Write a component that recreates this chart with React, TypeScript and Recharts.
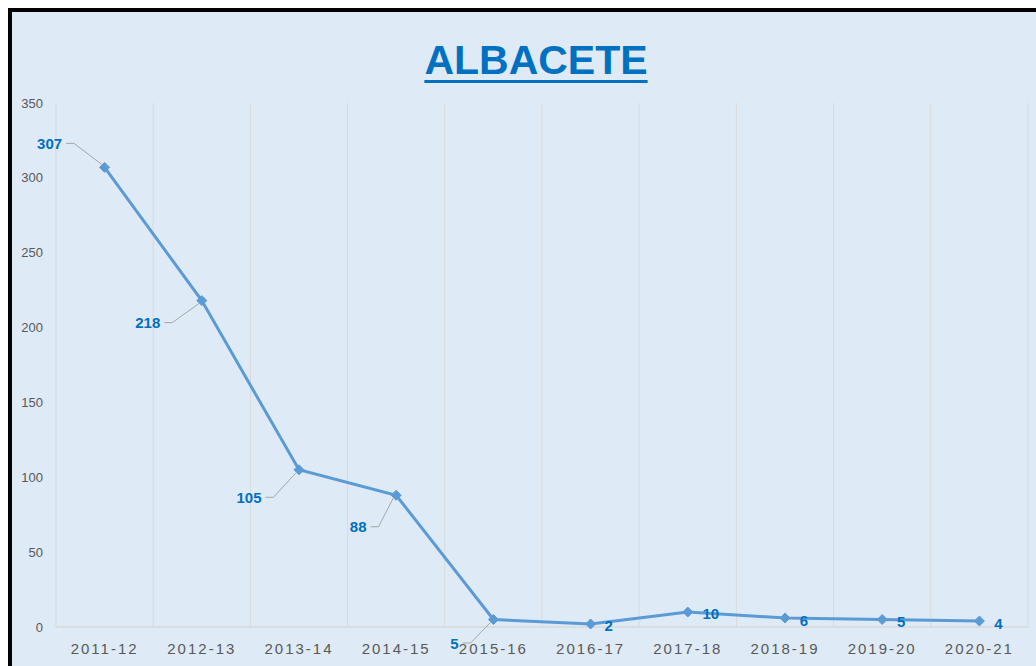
import React from "react";
import { LineChart, Line, XAxis, YAxis, CartesianGrid, LabelList } from "recharts";

const categories = ["2011-12", "2012-13", "2013-14", "2014-15", "2015-16", "2016-17", "2017-18", "2018-19", "2019-20", "2020-21"];
const values = [307, 218, 105, 88, 5, 2, 10, 6, 5, 4];
const yTicks = [0, 50, 100, 150, 200, 250, 300, 350];
const title = "ALBACETE";

// label placement (layout only): [dx, dy, hasLeader]
const labelPlacement: [number, number, boolean][] = [
  [-55, -24, true],
  [-54, 22, true],
  [-50, 27.5, true],
  [-38, 31.5, true],
  [-39, 23.5, true],
  [18, 1, false],
  [23, 1, false],
  [19, 2, false],
  [19, 1.5, false],
  [19, 2, false],
];

const data = categories.map((c, i) => ({ cat: c, value: values[i] }));

const BLUE_LINE = "#5b9bd5";
const BLUE_TEXT = "#0070c0";
const FONT = "'Liberation Sans', Arial, sans-serif";

const Diamond = (props: any) => {
  const { cx, cy, index } = props;
  if (cx == null || cy == null) return null;
  const r = 5;
  return (
    <polygon
      key={`d-${index}`}
      points={`${cx},${cy - r} ${cx + r},${cy} ${cx},${cy + r} ${cx - r},${cy}`}
      fill={BLUE_LINE}
      stroke={BLUE_LINE}
      strokeWidth={1}
    />
  );
};

const renderLabel = (props: any) => {
  const { x, y, value, index } = props;
  const p = labelPlacement[index] || [18, 0, false];
  const lx = x + p[0];
  const ly = y + p[1];
  const half = (String(value).length * 8.3) / 2;
  let leader = null;
  if (p[2]) {
    const sx = lx + half + 4;
    const mx = sx + 8;
    const ex = x - 3;
    const ey = p[1] < 0 ? y - 3 : y + 3;
    leader = (
      <polyline
        points={`${sx},${ly} ${mx},${ly} ${ex},${ey}`}
        fill="none"
        stroke="#a6a6a6"
        strokeWidth={1}
      />
    );
  }
  return (
    <g key={`l-${index}`}>
      {leader}
      <text
        x={lx}
        y={ly}
        textAnchor="middle"
        dominantBaseline="central"
        fill={BLUE_TEXT}
        fontFamily={FONT}
        fontWeight="bold"
        fontSize={15}
      >
        {value}
      </text>
    </g>
  );
};

export default function App() {
  return (
    <div
      style={{
        position: "fixed",
        left: 0,
        top: 0,
        width: 1036,
        height: 666,
        overflow: "hidden",
        background: "#ffffff",
      }}
    >
      <div
        style={{
          position: "absolute",
          left: 8,
          top: 8,
          width: 1060,
          height: 700,
          border: "4px solid #000",
          background: "#deeaf6",
        }}
      />
      <div
        style={{
          position: "absolute",
          left: 336,
          top: 40,
          width: 400,
          textAlign: "center",
          fontFamily: FONT,
          fontWeight: "bold",
          fontSize: 41,
          lineHeight: "41px",
          color: BLUE_TEXT,
          textDecoration: "underline",
          textDecorationThickness: "3px",
          textUnderlineOffset: "6px",
        }}
      >
        {title}
      </div>
      <div style={{ position: "absolute", left: 0, top: 0 }}>
        <LineChart
          width={1036}
          height={666}
          data={data}
          margin={{ top: 103, right: 8, bottom: 0, left: 0 }}
        >
          <CartesianGrid
            horizontal={false}
            vertical={true}
            stroke="#d9d9d9"
            strokeWidth={1}
            verticalCoordinatesGenerator={({ offset }: any) =>
              categories
                .map((_, i) => offset.left + (i * offset.width) / categories.length)
                .concat([offset.left + offset.width])
            }
          />
          <XAxis
            dataKey="cat"
            height={39}
            padding={{ left: 48.6, right: 48.6 }}
            axisLine={{ stroke: "#d9d9d9", strokeWidth: 1.5 }}
            tickLine={false}
            tickSize={0}
            tickMargin={16}
            interval={0}
            tick={{
              fill: "#595959",
              fontSize: 15,
              fontFamily: FONT,
              letterSpacing: 2,
            }}
          />
          <YAxis
            width={56}
            domain={[0, 350]}
            ticks={yTicks}
            axisLine={false}
            tickLine={false}
            tickSize={0}
            tickMargin={13}
            tick={{
              fill: "#595959",
              fontSize: 13,
              fontFamily: FONT,
            }}
          />
          <Line
            type="linear"
            dataKey="value"
            stroke={BLUE_LINE}
            strokeWidth={3}
            dot={Diamond}
            activeDot={false}
            isAnimationActive={false}
          >
            <LabelList dataKey="value" content={renderLabel} />
          </Line>
        </LineChart>
      </div>
    </div>
  );
}
